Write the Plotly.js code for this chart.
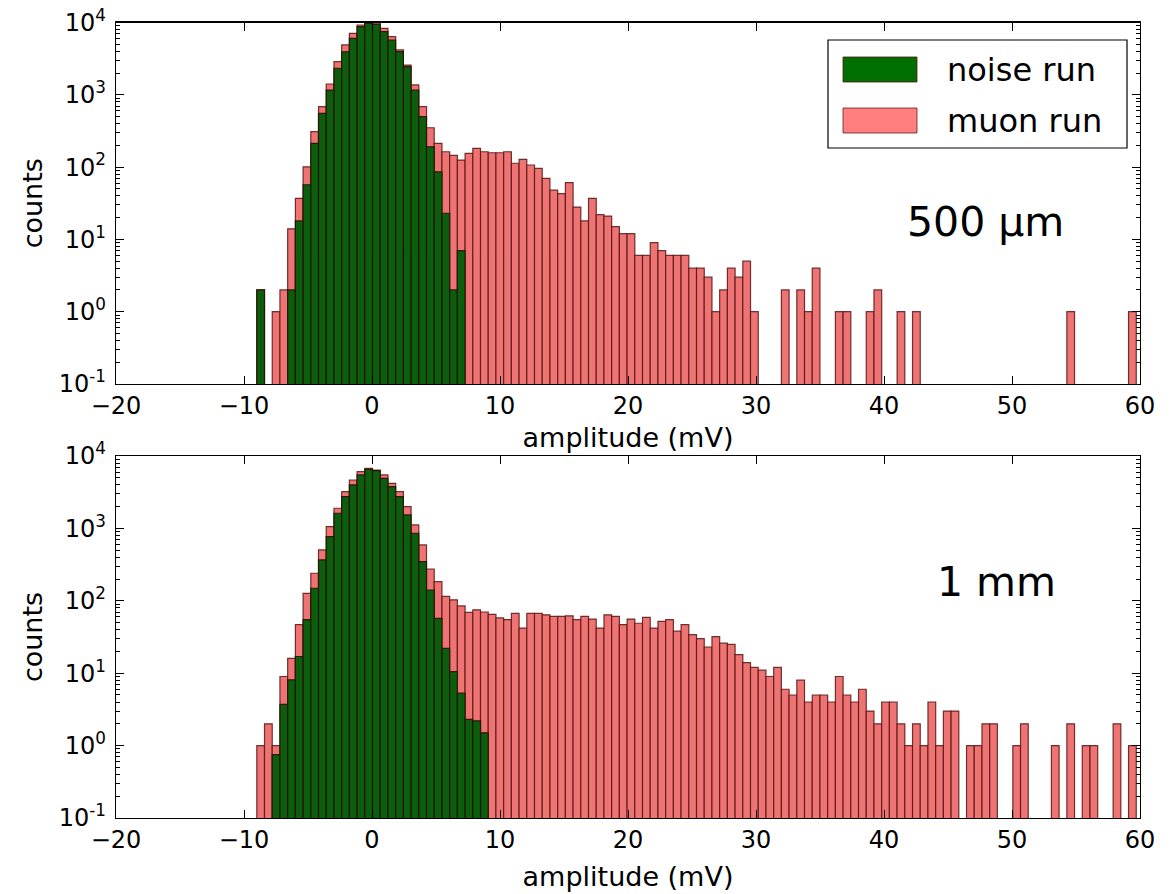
<!DOCTYPE html>
<html><head><meta charset="utf-8">
<script src="https://cdn.plot.ly/plotly-3.0.1.min.js"></script>
<style>html,body{margin:0;padding:0;background:#fff;} #chart{width:1169px;height:894px;}</style>
</head><body><div id="chart"></div>
<script>
// ---------- data ----------
const binStart = -9.0;      // left edge of first bin (mV)
const binWidth = 0.6027;    // bin width (mV)

const muon500 = [2,0,1,2,14,37,101,309,685,1410,
  2870,4890,7080,9230,10000,10000,8300,6360,4170,2580,
  1370,685,350,213,163,145,125,155,182,163,
  158,158,163,113,128,107,96,70,48,43,
  61,28,18,37,22,21,15,12,12,6,
  6,9,7,6,6,6,4,4,3,1,
  2,4,3,5,1,0,0,0,2,0,
  2,1,4,0,0,1,1,0,0,1,
  2,0,0,1,0,1,0,0,0,0,
  0,0,0,0,0,0,0,0,0,0,
  0,0,0,0,0,1,0,0,0,0,
  0,0,0,1];
const noise500 = [2,0,0,0,2,18,57,213,555,1164,
  2330,3940,6040,8750,9700,9500,7460,5730,3950,2450,
  1160,498,191,86,23,2,7,0,0,0,
  0,0,0,0,0,0,0,0,0,0,
  0,0,0,0,0,0,0,0,0,0,
  0,0,0,0,0,0,0,0,0,0,
  0,0,0,0,0,0,0,0,0,0,
  0,0,0,0,0,0,0,0,0,0,
  0,0,0,0,0,0,0,0,0,0,
  0,0,0,0,0,0,0,0,0,0,
  0,0,0,0,0,0,0,0,0,0,
  0,0,0,0];
const muon1mm = [1,2,1,9,16,47,127,240,505,1059,
  1897,3218,4664,6076,6760,6410,5470,4200,3218,1999,
  1117,591,275,184,115,103,85,69,75,70,
  65,58,55,67,42,67,67,64,61,61,
  62,55,61,56,42,64,61,47,56,49,
  59,42,52,55,38,47,34,30,23,32,
  26,25,18,14,12,11,9,12,6,5,
  8,4,5,5,4,9,5,4,6,3,
  2,4,4,2,1,2,1,4,1,3,
  3,0,1,1,2,2,0,0,1,2,
  0,0,0,1,0,2,0,1,1,0,
  0,2,0,1];
const noise1mm = [0,0,0.75,3.7,8.1,17,55,149,367,770,
  1618,2746,3981,5470,6550,6300,4920,3775,2746,1535,
  857,348,141,57,22,10.5,5.3,2.3,2.2,1.5,
  0,0,0,0,0,0,0,0,0,0,
  0,0,0,0,0,0,0,0,0,0,
  0,0,0,0,0,0,0,0,0,0,
  0,0,0,0,0,0,0,0,0,0,
  0,0,0,0,0,0,0,0,0,0,
  0,0,0,0,0,0,0,0,0,0,
  0,0,0,0,0,0,0,0,0,0,
  0,0,0,0,0,0,0,0,0,0,
  0,0,0,0];

const seriesNames = ['noise run', 'muon run'];
const panelLabels = ['500 µm', '1 mm'];
const xTickVals = [-20,-10,0,10,20,30,40,50,60];
const yTickVals = [0.1,1,10,100,1000,10000];
const yTickText = ['10<sup>-1</sup>','10<sup>0</sup>','10<sup>1</sup>','10<sup>2</sup>','10<sup>3</sup>','10<sup>4</sup>'];
const xTitle = 'amplitude (mV)';
const yTitle = 'counts';

// ---------- build ----------
const centers = muon500.map((_, i) => binStart + (i + 0.5) * binWidth);
const nz = arr => arr.map(v => v > 0 ? v : null);

const minorVals = [];
for (let e = -1; e < 4; e++) for (let m = 2; m <= 9; m++) minorVals.push(m * Math.pow(10, e));

const RED = '#ee7474', GREEN = '#0b5e0b';
const redLine = {color: 'rgba(90,20,20,0.85)', width: 1.2};
const greenLine = {color: 'rgba(40,15,5,0.9)', width: 1.2};

function bars(y, color, line, name, xa, ya) {
  return {type: 'bar', x: centers, y: nz(y), width: binWidth, name: name,
    marker: {color: color, line: line}, xaxis: xa, yaxis: ya, showlegend: false,
    hoverinfo: 'x+y'};
}

const traces = [
  bars(muon500, RED, redLine, seriesNames[1], 'x', 'y'),
  bars(noise500, GREEN, greenLine, seriesNames[0], 'x', 'y'),
  bars(muon1mm, RED, redLine, seriesNames[1], 'x2', 'y2'),
  bars(noise1mm, GREEN, greenLine, seriesNames[0], 'x2', 'y2')
];

const FONT = 'DejaVu Sans, Liberation Sans, sans-serif';
const ML = 116, MR = 29, MT = 22, MB = 76, W = 1169, H = 894;
const PW = W - ML - MR, PH = H - MT - MB;
const xp = px => (px - ML) / PW;
const yp = py => (H - MB - py) / PH;

function xaxis(anchor, standoff) {
  return {anchor: anchor, domain: [0, 1], range: [-20, 60], tickmode: 'array', tickvals: xTickVals,
    ticks: 'inside', ticklen: 8, tickwidth: 1, tickcolor: '#000', mirror: 'ticks', showline: true,
    linecolor: '#000', linewidth: 1.2, showgrid: false, zeroline: false,
    tickfont: {family: FONT, size: 24, color: '#000'},
    title: {text: xTitle, font: {family: FONT, size: 27, color: '#000'}, standoff: standoff}};
}
function yaxis(anchor, dom) {
  return {anchor: anchor, domain: dom, type: 'log', range: [-1, 4], tickmode: 'array',
    tickvals: yTickVals, ticktext: yTickText, ticks: 'inside', ticklen: 8, tickwidth: 1,
    tickcolor: '#000', mirror: 'ticks', showline: true, linecolor: '#000', linewidth: 1.2,
    showgrid: false, zeroline: false, ticklabelstandoff: 4,
    minor: {tickmode: 'array', tickvals: minorVals, ticks: 'inside', ticklen: 4, tickcolor: '#000', showgrid: false},
    tickfont: {family: FONT, size: 24, color: '#000'},
    title: {text: yTitle, font: {family: FONT, size: 27, color: '#000'}, standoff: 8}};
}

const shapes = [
  {type: 'rect', xref: 'paper', yref: 'paper', x0: xp(828), x1: xp(1127), y0: yp(148), y1: yp(40),
    line: {color: '#000', width: 1.2}, fillcolor: '#fff', layer: 'above'},
  {type: 'rect', xref: 'paper', yref: 'paper', x0: xp(843), x1: xp(917), y0: yp(82), y1: yp(57),
    line: {color: 'rgba(90,20,20,0.8)', width: 1}, fillcolor: '#006e00', layer: 'above'},
  {type: 'rect', xref: 'paper', yref: 'paper', x0: xp(843), x1: xp(917), y0: yp(133), y1: yp(108),
    line: {color: 'rgba(90,20,20,0.75)', width: 1}, fillcolor: '#ff7f7f', layer: 'above'}
];

const annotations = [
  {text: seriesNames[0], xref: 'paper', yref: 'paper', x: xp(945), y: yp(70), xanchor: 'left', yanchor: 'middle',
    showarrow: false, font: {family: FONT, size: 32, color: '#000'}},
  {text: seriesNames[1], xref: 'paper', yref: 'paper', x: xp(945), y: yp(121), xanchor: 'left', yanchor: 'middle',
    showarrow: false, font: {family: FONT, size: 32, color: '#000'}},
  {text: panelLabels[0], xref: 'paper', yref: 'paper', x: xp(985), y: yp(222), xanchor: 'center', yanchor: 'middle',
    showarrow: false, font: {family: FONT, size: 41, color: '#000'}},
  {text: panelLabels[1], xref: 'paper', yref: 'paper', x: xp(996), y: yp(582), xanchor: 'center', yanchor: 'middle',
    showarrow: false, font: {family: FONT, size: 41, color: '#000'}}
];

const layout = {
  width: W, height: H, margin: {l: ML, r: MR, t: MT, b: MB},
  paper_bgcolor: '#fff', plot_bgcolor: '#fff', barmode: 'overlay', bargap: 0,
  showlegend: false,
  xaxis: xaxis('y', 9), yaxis: yaxis('x', [yp(384), yp(22.5)]),
  xaxis2: xaxis('y2', 14), yaxis2: yaxis('x2', [0, yp(456)]),
  shapes: shapes, annotations: annotations,
  font: {family: FONT, color: '#000'}
};

Plotly.newPlot('chart', traces, layout, {displayModeBar: false, staticPlot: true});
</script></body></html>
